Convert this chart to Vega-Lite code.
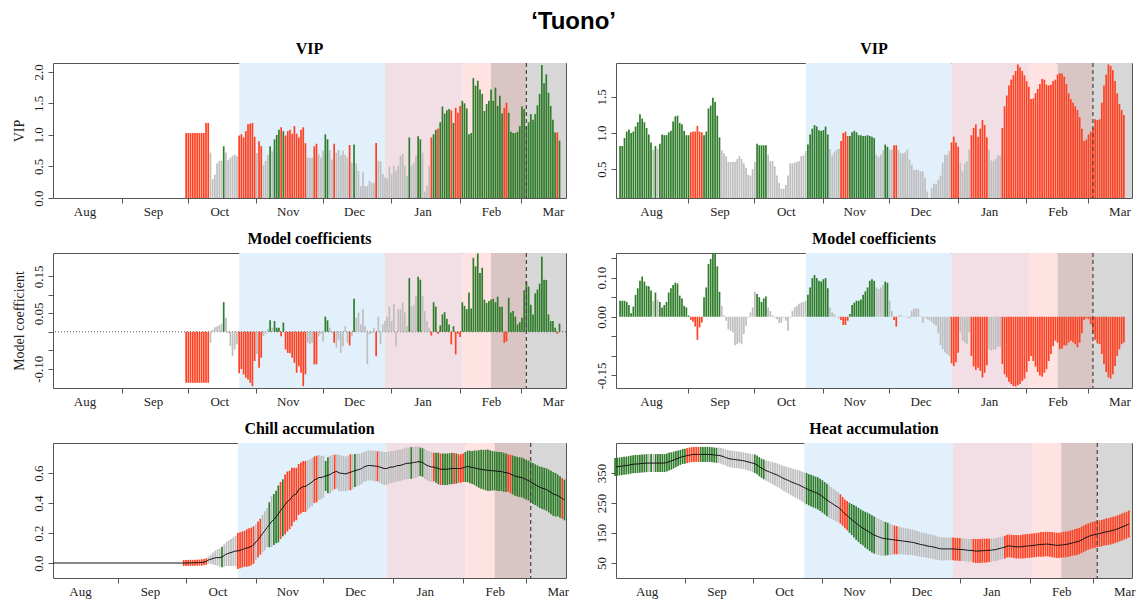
{
"$schema":"https://vega.github.io/schema/vega-lite/v6.json",
"background":"white",
"padding":{"left":11,"top":9,"right":5,"bottom":4},
"title":{"text":"‘Tuono’","font":"Liberation Sans","fontSize":24,"fontWeight":"bold","anchor":"middle","color":"#000","offset":7},
"datasets":{
"P":[{"s":"2018-10-24","e":"2018-12-29","k":"chill"},{"s":"2018-12-29","e":"2019-02-02","k":"heat"},{"s":"2019-02-02","e":"2019-02-15","k":"heat late"},{"s":"2019-02-15","e":"2019-03-03","k":"bloom early"},{"s":"2019-03-03","e":"2019-03-25","k":"bloom late"}],
"B":[{"d":"2019-03-03"}],
"Z":[{"z":0}],
"L":[
{"d":"2018-08-03","v":0,"c":0,"m":0,"s":0},
{"d":"2018-09-29","v":0,"c":0,"m":0,"s":0},
{"d":"2018-09-30","v":1.03,"c":-0.138,"m":0,"s":0.02},
{"d":"2018-10-01","v":1.03,"c":-0.138,"m":0,"s":0.02},
{"d":"2018-10-02","v":1.03,"c":-0.138,"m":0.001,"s":0.02},
{"d":"2018-10-03","v":1.03,"c":-0.138,"m":0.001,"s":0.02},
{"d":"2018-10-04","v":1.03,"c":-0.138,"m":0.001,"s":0.02},
{"d":"2018-10-05","v":1.03,"c":-0.138,"m":0.002,"s":0.02},
{"d":"2018-10-06","v":1.03,"c":-0.138,"m":0.002,"s":0.02},
{"d":"2018-10-07","v":1.03,"c":-0.138,"m":0.003,"s":0.02},
{"d":"2018-10-08","v":1.03,"c":-0.138,"m":0.004,"s":0.021},
{"d":"2018-10-09","v":1.19,"c":-0.138,"m":0.006,"s":0.021},
{"d":"2018-10-10","v":1.19,"c":-0.138,"m":0.01,"s":0.022},
{"d":"2018-10-11","v":0.72,"c":-0.03,"m":0.02,"s":0.024},
{"d":"2018-10-12","v":0.3,"c":0.005,"m":0.025,"s":0.03},
{"d":"2018-10-13","v":0.37,"c":0.012,"m":0.03,"s":0.04},
{"d":"2018-10-14","v":0.55,"c":0.015,"m":0.035,"s":0.048},
{"d":"2018-10-15","v":0.59,"c":0.018,"m":0.036,"s":0.055},
{"d":"2018-10-16","v":0.59,"c":0.022,"m":0.036,"s":0.06},
{"d":"2018-10-17","v":0.82,"c":0.08,"m":0.04,"s":0.069},
{"d":"2018-10-18","v":0.72,"c":0.038,"m":0.05,"s":0.075},
{"d":"2018-10-19","v":0.6,"c":-0.004,"m":0.06,"s":0.08},
{"d":"2018-10-20","v":0.64,"c":-0.039,"m":0.065,"s":0.085},
{"d":"2018-10-21","v":0.67,"c":-0.066,"m":0.07,"s":0.09},
{"d":"2018-10-22","v":0.69,"c":-0.048,"m":0.075,"s":0.095},
{"d":"2018-10-23","v":0.66,"c":-0.034,"m":0.08,"s":0.1},
{"d":"2018-10-24","v":0.99,"c":-0.112,"m":0.08,"s":0.12},
{"d":"2018-10-25","v":1.01,"c":-0.101,"m":0.085,"s":0.12},
{"d":"2018-10-26","v":0.96,"c":-0.115,"m":0.09,"s":0.12},
{"d":"2018-10-27","v":1.06,"c":-0.124,"m":0.095,"s":0.12},
{"d":"2018-10-28","v":1.17,"c":-0.129,"m":0.1,"s":0.125},
{"d":"2018-10-29","v":1.18,"c":-0.138,"m":0.105,"s":0.126},
{"d":"2018-10-30","v":1.19,"c":-0.147,"m":0.11,"s":0.126},
{"d":"2018-10-31","v":0.97,"c":-0.079,"m":0.12,"s":0.125},
{"d":"2018-11-01","v":0.71,"c":-0.06,"m":0.14,"s":0.12},
{"d":"2018-11-02","v":0.9,"c":-0.097,"m":0.156,"s":0.12},
{"d":"2018-11-03","v":0.82,"c":-0.07,"m":0.175,"s":0.12},
{"d":"2018-11-04","v":0.52,"c":-0.012,"m":0.196,"s":0.125},
{"d":"2018-11-05","v":0.59,"c":-0.005,"m":0.215,"s":0.13},
{"d":"2018-11-06","v":0.68,"c":0.008,"m":0.236,"s":0.13},
{"d":"2018-11-07","v":0.82,"c":0.031,"m":0.255,"s":0.15},
{"d":"2018-11-08","v":0.74,"c":0.011,"m":0.277,"s":0.17},
{"d":"2018-11-09","v":0.93,"c":0.029,"m":0.29,"s":0.17},
{"d":"2018-11-10","v":1.0,"c":0.011,"m":0.307,"s":0.175},
{"d":"2018-11-11","v":1.08,"c":0.011,"m":0.327,"s":0.19},
{"d":"2018-11-12","v":1.12,"c":-0.012,"m":0.35,"s":0.19},
{"d":"2018-11-13","v":1.06,"c":0.025,"m":0.368,"s":0.19},
{"d":"2018-11-14","v":0.99,"c":-0.048,"m":0.39,"s":0.2},
{"d":"2018-11-15","v":1.06,"c":-0.057,"m":0.41,"s":0.2},
{"d":"2018-11-16","v":1.08,"c":-0.058,"m":0.42,"s":0.195},
{"d":"2018-11-17","v":1.02,"c":-0.07,"m":0.44,"s":0.195},
{"d":"2018-11-18","v":1.14,"c":-0.084,"m":0.455,"s":0.18},
{"d":"2018-11-19","v":1.02,"c":-0.111,"m":0.46,"s":0.175},
{"d":"2018-11-20","v":0.96,"c":-0.093,"m":0.49,"s":0.17},
{"d":"2018-11-21","v":1.08,"c":-0.111,"m":0.5,"s":0.17},
{"d":"2018-11-22","v":1.12,"c":-0.147,"m":0.51,"s":0.17},
{"d":"2018-11-23","v":0.87,"c":-0.115,"m":0.51,"s":0.17},
{"d":"2018-11-24","v":0.64,"c":-0.03,"m":0.52,"s":0.165},
{"d":"2018-11-25","v":0.64,"c":-0.034,"m":0.53,"s":0.16},
{"d":"2018-11-26","v":0.64,"c":-0.03,"m":0.54,"s":0.16},
{"d":"2018-11-27","v":0.82,"c":-0.088,"m":0.555,"s":0.155},
{"d":"2018-11-28","v":0.86,"c":-0.088,"m":0.56,"s":0.155},
{"d":"2018-11-29","v":0.69,"c":-0.012,"m":0.57,"s":0.15},
{"d":"2018-11-30","v":0.64,"c":-0.005,"m":0.57,"s":0.145},
{"d":"2018-12-01","v":0.75,"c":-0.026,"m":0.575,"s":0.14},
{"d":"2018-12-02","v":1.01,"c":0.041,"m":0.58,"s":0.1},
{"d":"2018-12-03","v":0.93,"c":0.031,"m":0.585,"s":0.12},
{"d":"2018-12-04","v":0.76,"c":0.011,"m":0.59,"s":0.125},
{"d":"2018-12-05","v":0.61,"c":-0.003,"m":0.6,"s":0.12},
{"d":"2018-12-06","v":0.86,"c":-0.03,"m":0.607,"s":0.115},
{"d":"2018-12-07","v":0.72,"c":-0.043,"m":0.61,"s":0.115},
{"d":"2018-12-08","v":0.76,"c":-0.021,"m":0.6,"s":0.12},
{"d":"2018-12-09","v":0.68,"c":-0.057,"m":0.598,"s":0.12},
{"d":"2018-12-10","v":0.75,"c":-0.039,"m":0.596,"s":0.118},
{"d":"2018-12-11","v":0.68,"c":0.015,"m":0.594,"s":0.116},
{"d":"2018-12-12","v":0.64,"c":-0.03,"m":0.6,"s":0.116},
{"d":"2018-12-13","v":0.84,"c":-0.037,"m":0.605,"s":0.12},
{"d":"2018-12-14","v":0.56,"c":-0.012,"m":0.61,"s":0.115},
{"d":"2018-12-15","v":0.85,"c":0.089,"m":0.616,"s":0.11},
{"d":"2018-12-16","v":0.55,"c":0.038,"m":0.62,"s":0.108},
{"d":"2018-12-17","v":0.43,"c":0.052,"m":0.624,"s":0.106},
{"d":"2018-12-18","v":0.19,"c":0.02,"m":0.63,"s":0.104},
{"d":"2018-12-19","v":0.41,"c":0.061,"m":0.64,"s":0.1},
{"d":"2018-12-20","v":0.19,"c":0.015,"m":0.646,"s":0.1},
{"d":"2018-12-21","v":0.19,"c":-0.088,"m":0.65,"s":0.1},
{"d":"2018-12-22","v":0.27,"c":-0.007,"m":0.65,"s":0.1},
{"d":"2018-12-23","v":0.24,"c":-0.004,"m":0.648,"s":0.1},
{"d":"2018-12-24","v":0.24,"c":0.01,"m":0.646,"s":0.102},
{"d":"2018-12-25","v":0.87,"c":-0.066,"m":0.645,"s":0.1},
{"d":"2018-12-26","v":0.59,"c":0.041,"m":0.64,"s":0.105},
{"d":"2018-12-27","v":0.58,"c":-0.034,"m":0.635,"s":0.108},
{"d":"2018-12-28","v":0.38,"c":0.02,"m":0.63,"s":0.11},
{"d":"2018-12-29","v":0.33,"c":0.029,"m":0.63,"s":0.11},
{"d":"2018-12-30","v":0.31,"c":0.041,"m":0.635,"s":0.108},
{"d":"2018-12-31","v":0.49,"c":0.068,"m":0.64,"s":0.106},
{"d":"2019-01-01","v":0.38,"c":0.029,"m":0.64,"s":0.106},
{"d":"2019-01-02","v":0.51,"c":0.076,"m":0.645,"s":0.105},
{"d":"2019-01-03","v":0.43,"c":-0.039,"m":0.65,"s":0.105},
{"d":"2019-01-04","v":0.51,"c":0.061,"m":0.65,"s":0.105},
{"d":"2019-01-05","v":0.67,"c":0.061,"m":0.655,"s":0.105},
{"d":"2019-01-06","v":0.7,"c":0.078,"m":0.66,"s":0.105},
{"d":"2019-01-07","v":0.51,"c":0.052,"m":0.665,"s":0.105},
{"d":"2019-01-08","v":0.35,"c":0.015,"m":0.665,"s":0.105},
{"d":"2019-01-09","v":0.96,"c":0.145,"m":0.667,"s":0.106},
{"d":"2019-01-10","v":0.51,"c":0.068,"m":0.67,"s":0.105},
{"d":"2019-01-11","v":0.55,"c":0.073,"m":0.672,"s":0.105},
{"d":"2019-01-12","v":0.67,"c":0.096,"m":0.675,"s":0.1},
{"d":"2019-01-13","v":0.98,"c":0.149,"m":0.675,"s":0.095},
{"d":"2019-01-14","v":0.93,"c":0.141,"m":0.67,"s":0.095},
{"d":"2019-01-15","v":0.72,"c":0.096,"m":0.66,"s":0.1},
{"d":"2019-01-16","v":0.1,"c":0.056,"m":0.65,"s":0.1},
{"d":"2019-01-17","v":0.19,"c":0.029,"m":0.645,"s":0.1},
{"d":"2019-01-18","v":0.51,"c":0.011,"m":0.64,"s":0.1},
{"d":"2019-01-19","v":0.96,"c":-0.01,"m":0.64,"s":0.095},
{"d":"2019-01-20","v":1.01,"c":0.08,"m":0.635,"s":0.1},
{"d":"2019-01-21","v":1.08,"c":0.068,"m":0.63,"s":0.105},
{"d":"2019-01-22","v":1.1,"c":-0.005,"m":0.625,"s":0.105},
{"d":"2019-01-23","v":1.2,"c":0.017,"m":0.625,"s":0.105},
{"d":"2019-01-24","v":1.45,"c":0.047,"m":0.625,"s":0.105},
{"d":"2019-01-25","v":1.34,"c":0.053,"m":0.625,"s":0.105},
{"d":"2019-01-26","v":1.39,"c":0.035,"m":0.628,"s":0.104},
{"d":"2019-01-27","v":1.41,"c":0.02,"m":0.63,"s":0.104},
{"d":"2019-01-28","v":1.39,"c":-0.034,"m":0.63,"s":0.104},
{"d":"2019-01-29","v":1.19,"c":0.015,"m":0.63,"s":0.1},
{"d":"2019-01-30","v":1.43,"c":-0.061,"m":0.63,"s":0.095},
{"d":"2019-01-31","v":1.35,"c":-0.005,"m":0.63,"s":0.095},
{"d":"2019-02-01","v":1.46,"c":-0.014,"m":0.635,"s":0.095},
{"d":"2019-02-02","v":1.54,"c":0.08,"m":0.64,"s":0.1},
{"d":"2019-02-03","v":1.5,"c":0.07,"m":0.644,"s":0.105},
{"d":"2019-02-04","v":1.42,"c":0.061,"m":0.64,"s":0.108},
{"d":"2019-02-05","v":1.01,"c":0.106,"m":0.637,"s":0.11},
{"d":"2019-02-06","v":1.03,"c":0.063,"m":0.635,"s":0.115},
{"d":"2019-02-07","v":1.9,"c":0.2,"m":0.63,"s":0.12},
{"d":"2019-02-08","v":1.78,"c":0.177,"m":0.627,"s":0.125},
{"d":"2019-02-09","v":1.86,"c":0.212,"m":0.625,"s":0.13},
{"d":"2019-02-10","v":1.72,"c":0.159,"m":0.622,"s":0.132},
{"d":"2019-02-11","v":1.65,"c":0.173,"m":0.62,"s":0.135},
{"d":"2019-02-12","v":1.38,"c":0.087,"m":0.618,"s":0.138},
{"d":"2019-02-13","v":1.49,"c":0.078,"m":0.616,"s":0.135},
{"d":"2019-02-14","v":1.54,"c":0.083,"m":0.615,"s":0.132},
{"d":"2019-02-15","v":1.72,"c":0.087,"m":0.614,"s":0.13},
{"d":"2019-02-16","v":1.54,"c":0.089,"m":0.612,"s":0.13},
{"d":"2019-02-17","v":1.75,"c":0.08,"m":0.61,"s":0.13},
{"d":"2019-02-18","v":1.46,"c":0.095,"m":0.61,"s":0.13},
{"d":"2019-02-19","v":1.62,"c":0.068,"m":0.605,"s":0.13},
{"d":"2019-02-20","v":1.34,"c":0.068,"m":0.602,"s":0.128},
{"d":"2019-02-21","v":1.43,"c":-0.03,"m":0.6,"s":0.125},
{"d":"2019-02-22","v":1.51,"c":-0.026,"m":0.593,"s":0.128},
{"d":"2019-02-23","v":1.35,"c":0.092,"m":0.587,"s":0.13},
{"d":"2019-02-24","v":1.05,"c":0.052,"m":0.58,"s":0.132},
{"d":"2019-02-25","v":1.03,"c":0.056,"m":0.576,"s":0.132},
{"d":"2019-02-26","v":1.03,"c":0.041,"m":0.572,"s":0.133},
{"d":"2019-02-27","v":1.05,"c":0.02,"m":0.57,"s":0.133},
{"d":"2019-02-28","v":1.14,"c":0.026,"m":0.563,"s":0.133},
{"d":"2019-03-01","v":1.45,"c":0.038,"m":0.556,"s":0.133},
{"d":"2019-03-02","v":1.41,"c":0.112,"m":0.55,"s":0.133},
{"d":"2019-03-03","v":1.14,"c":0.137,"m":0.54,"s":0.135},
{"d":"2019-03-04","v":1.2,"c":0.122,"m":0.53,"s":0.136},
{"d":"2019-03-05","v":1.33,"c":0.073,"m":0.522,"s":0.136},
{"d":"2019-03-06","v":1.24,"c":0.047,"m":0.514,"s":0.137},
{"d":"2019-03-07","v":1.33,"c":0.104,"m":0.505,"s":0.138},
{"d":"2019-03-08","v":1.47,"c":0.114,"m":0.5,"s":0.14},
{"d":"2019-03-09","v":1.65,"c":0.13,"m":0.495,"s":0.14},
{"d":"2019-03-10","v":2.11,"c":0.203,"m":0.49,"s":0.142},
{"d":"2019-03-11","v":1.82,"c":0.141,"m":0.48,"s":0.143},
{"d":"2019-03-12","v":1.96,"c":0.14,"m":0.47,"s":0.145},
{"d":"2019-03-13","v":1.67,"c":0.047,"m":0.46,"s":0.146},
{"d":"2019-03-14","v":1.46,"c":0.029,"m":0.455,"s":0.145},
{"d":"2019-03-15","v":1.24,"c":0.029,"m":0.45,"s":0.14},
{"d":"2019-03-16","v":1.04,"c":0.011,"m":0.44,"s":0.138},
{"d":"2019-03-17","v":1.04,"c":-0.005,"m":0.43,"s":0.136},
{"d":"2019-03-18","v":0.91,"c":0.022,"m":0.42,"s":0.136}
],
"R":[
{"d":"2018-08-01","v":0.82,"c":0.041,"m":370,"s":30},
{"d":"2018-08-02","v":0.82,"c":0.041,"m":371,"s":30},
{"d":"2018-08-03","v":0.93,"c":0.041,"m":372,"s":30},
{"d":"2018-08-04","v":1.02,"c":0.038,"m":373,"s":30},
{"d":"2018-08-05","v":1.05,"c":0.03,"m":374,"s":30},
{"d":"2018-08-06","v":1.0,"c":0.009,"m":375,"s":30},
{"d":"2018-08-07","v":1.02,"c":0.026,"m":376,"s":30},
{"d":"2018-08-08","v":1.09,"c":0.056,"m":378,"s":30},
{"d":"2018-08-09","v":1.15,"c":0.073,"m":379,"s":30},
{"d":"2018-08-10","v":1.26,"c":0.092,"m":380,"s":30},
{"d":"2018-08-11","v":1.2,"c":0.103,"m":380,"s":30},
{"d":"2018-08-12","v":1.15,"c":0.09,"m":381,"s":30},
{"d":"2018-08-13","v":1.07,"c":0.079,"m":382,"s":30},
{"d":"2018-08-14","v":0.98,"c":0.078,"m":382,"s":30},
{"d":"2018-08-15","v":0.87,"c":0.067,"m":383,"s":30},
{"d":"2018-08-16","v":0.77,"c":0.041,"m":383,"s":30},
{"d":"2018-08-17","v":0.82,"c":0.062,"m":383,"s":30},
{"d":"2018-08-18","v":0.78,"c":0.044,"m":383,"s":30},
{"d":"2018-08-19","v":0.85,"c":0.038,"m":383,"s":30},
{"d":"2018-08-20","v":0.98,"c":0.024,"m":383,"s":30},
{"d":"2018-08-21","v":0.97,"c":0.03,"m":383,"s":30},
{"d":"2018-08-22","v":0.97,"c":0.038,"m":383,"s":30},
{"d":"2018-08-23","v":1.01,"c":0.062,"m":383,"s":30},
{"d":"2018-08-24","v":1.03,"c":0.073,"m":385,"s":30},
{"d":"2018-08-25","v":1.16,"c":0.081,"m":388,"s":30},
{"d":"2018-08-26","v":1.23,"c":0.087,"m":390,"s":29},
{"d":"2018-08-27","v":1.24,"c":0.085,"m":393,"s":28},
{"d":"2018-08-28","v":1.14,"c":0.054,"m":396,"s":27},
{"d":"2018-08-29","v":1.12,"c":0.047,"m":399,"s":26},
{"d":"2018-08-30","v":1.03,"c":0.028,"m":402,"s":25},
{"d":"2018-08-31","v":0.97,"c":0.024,"m":405,"s":25},
{"d":"2018-09-01","v":0.97,"c":0.003,"m":406,"s":25},
{"d":"2018-09-02","v":1.01,"c":-0.008,"m":408,"s":25},
{"d":"2018-09-03","v":1.02,"c":-0.013,"m":410,"s":25},
{"d":"2018-09-04","v":1.02,"c":-0.025,"m":411,"s":25},
{"d":"2018-09-05","v":1.1,"c":-0.059,"m":412,"s":25},
{"d":"2018-09-06","v":1.02,"c":-0.027,"m":412,"s":25},
{"d":"2018-09-07","v":1.01,"c":-0.015,"m":412,"s":25},
{"d":"2018-09-08","v":0.97,"c":0.05,"m":412,"s":25},
{"d":"2018-09-09","v":1.02,"c":0.075,"m":412,"s":25},
{"d":"2018-09-10","v":1.34,"c":0.135,"m":412,"s":25},
{"d":"2018-09-11","v":1.38,"c":0.148,"m":412,"s":25},
{"d":"2018-09-12","v":1.49,"c":0.163,"m":412,"s":25},
{"d":"2018-09-13","v":1.43,"c":0.163,"m":411,"s":25},
{"d":"2018-09-14","v":1.24,"c":0.129,"m":410,"s":25},
{"d":"2018-09-15","v":0.94,"c":0.064,"m":409,"s":25},
{"d":"2018-09-16","v":0.76,"c":0.028,"m":409,"s":26},
{"d":"2018-09-17","v":0.72,"c":0.003,"m":407,"s":26},
{"d":"2018-09-18","v":0.68,"c":-0.01,"m":405,"s":27},
{"d":"2018-09-19","v":0.6,"c":-0.032,"m":402,"s":27},
{"d":"2018-09-20","v":0.6,"c":-0.036,"m":399,"s":28},
{"d":"2018-09-21","v":0.6,"c":-0.04,"m":397,"s":28},
{"d":"2018-09-22","v":0.6,"c":-0.073,"m":396,"s":28},
{"d":"2018-09-23","v":0.64,"c":-0.07,"m":395,"s":28},
{"d":"2018-09-24","v":0.68,"c":-0.066,"m":394,"s":28},
{"d":"2018-09-25","v":0.64,"c":-0.07,"m":393,"s":28},
{"d":"2018-09-26","v":0.58,"c":-0.044,"m":392,"s":28},
{"d":"2018-09-27","v":0.52,"c":-0.023,"m":391,"s":28},
{"d":"2018-09-28","v":0.42,"c":-0.002,"m":389,"s":28},
{"d":"2018-09-29","v":0.41,"c":0.011,"m":387,"s":29},
{"d":"2018-09-30","v":0.5,"c":0.024,"m":385,"s":29},
{"d":"2018-10-01","v":0.6,"c":0.064,"m":383,"s":30},
{"d":"2018-10-02","v":0.85,"c":0.058,"m":381,"s":31},
{"d":"2018-10-03","v":0.83,"c":0.05,"m":377,"s":31},
{"d":"2018-10-04","v":0.83,"c":0.038,"m":371,"s":32},
{"d":"2018-10-05","v":0.83,"c":0.047,"m":366,"s":32},
{"d":"2018-10-06","v":0.83,"c":0.052,"m":362,"s":33},
{"d":"2018-10-07","v":0.7,"c":0.024,"m":358,"s":34},
{"d":"2018-10-08","v":0.61,"c":0.015,"m":355,"s":35},
{"d":"2018-10-09","v":0.61,"c":0.004,"m":352,"s":36},
{"d":"2018-10-10","v":0.54,"c":-0.002,"m":349,"s":37},
{"d":"2018-10-11","v":0.41,"c":-0.006,"m":346,"s":38},
{"d":"2018-10-12","v":0.31,"c":-0.016,"m":343,"s":39},
{"d":"2018-10-13","v":0.23,"c":-0.015,"m":339,"s":40},
{"d":"2018-10-14","v":0.23,"c":-0.002,"m":335,"s":41},
{"d":"2018-10-15","v":0.28,"c":-0.01,"m":331,"s":42},
{"d":"2018-10-16","v":0.41,"c":-0.036,"m":328,"s":43},
{"d":"2018-10-17","v":0.58,"c":-0.002,"m":325,"s":44},
{"d":"2018-10-18","v":0.58,"c":0.015,"m":321,"s":45},
{"d":"2018-10-19","v":0.59,"c":0.024,"m":318,"s":46},
{"d":"2018-10-20","v":0.6,"c":0.028,"m":315,"s":47},
{"d":"2018-10-21","v":0.61,"c":0.033,"m":312,"s":48},
{"d":"2018-10-22","v":0.68,"c":0.036,"m":309,"s":49},
{"d":"2018-10-23","v":0.69,"c":0.038,"m":305,"s":50},
{"d":"2018-10-24","v":0.75,"c":0.041,"m":301,"s":51},
{"d":"2018-10-25","v":0.84,"c":0.056,"m":298,"s":52},
{"d":"2018-10-26","v":0.98,"c":0.075,"m":294,"s":52},
{"d":"2018-10-27","v":1.06,"c":0.099,"m":291,"s":53},
{"d":"2018-10-28","v":1.11,"c":0.107,"m":288,"s":53},
{"d":"2018-10-29","v":1.09,"c":0.099,"m":285,"s":53},
{"d":"2018-10-30","v":1.04,"c":0.092,"m":282,"s":54},
{"d":"2018-10-31","v":1.03,"c":0.09,"m":277,"s":54},
{"d":"2018-11-01","v":1.04,"c":0.096,"m":272,"s":54},
{"d":"2018-11-02","v":1.09,"c":0.099,"m":266,"s":54},
{"d":"2018-11-03","v":0.98,"c":0.073,"m":260,"s":54},
{"d":"2018-11-04","v":0.78,"c":0.024,"m":255,"s":54},
{"d":"2018-11-05","v":0.69,"c":0.011,"m":250,"s":53},
{"d":"2018-11-06","v":0.74,"c":0.007,"m":245,"s":52},
{"d":"2018-11-07","v":0.77,"c":0.001,"m":240,"s":51},
{"d":"2018-11-08","v":0.78,"c":-0.004,"m":236,"s":50},
{"d":"2018-11-09","v":0.89,"c":-0.008,"m":230,"s":49},
{"d":"2018-11-10","v":1.0,"c":-0.021,"m":222,"s":48},
{"d":"2018-11-11","v":1.02,"c":-0.021,"m":214,"s":48},
{"d":"2018-11-12","v":0.96,"c":-0.01,"m":208,"s":49},
{"d":"2018-11-13","v":0.96,"c":0.007,"m":201,"s":50},
{"d":"2018-11-14","v":1.01,"c":0.03,"m":195,"s":52},
{"d":"2018-11-15","v":1.03,"c":0.036,"m":189,"s":54},
{"d":"2018-11-16","v":1.01,"c":0.041,"m":183,"s":56},
{"d":"2018-11-17","v":0.97,"c":0.041,"m":177,"s":57},
{"d":"2018-11-18","v":0.97,"c":0.044,"m":171,"s":58},
{"d":"2018-11-19","v":0.96,"c":0.056,"m":166,"s":58},
{"d":"2018-11-20","v":0.96,"c":0.065,"m":161,"s":60},
{"d":"2018-11-21","v":0.97,"c":0.075,"m":157,"s":61},
{"d":"2018-11-22","v":0.96,"c":0.092,"m":152,"s":62},
{"d":"2018-11-23","v":0.95,"c":0.096,"m":147,"s":62},
{"d":"2018-11-24","v":0.93,"c":0.092,"m":143,"s":62},
{"d":"2018-11-25","v":0.7,"c":0.075,"m":140,"s":61},
{"d":"2018-11-26","v":0.67,"c":0.071,"m":137,"s":60},
{"d":"2018-11-27","v":0.7,"c":0.075,"m":134,"s":59},
{"d":"2018-11-28","v":0.76,"c":0.081,"m":132,"s":58},
{"d":"2018-11-29","v":0.84,"c":0.09,"m":131,"s":56},
{"d":"2018-11-30","v":0.81,"c":0.087,"m":130,"s":54},
{"d":"2018-12-01","v":0.77,"c":0.041,"m":129,"s":52},
{"d":"2018-12-02","v":0.77,"c":0.015,"m":128,"s":50},
{"d":"2018-12-03","v":0.83,"c":-0.008,"m":127,"s":48},
{"d":"2018-12-04","v":0.83,"c":-0.025,"m":126,"s":47},
{"d":"2018-12-05","v":0.76,"c":0.003,"m":125,"s":46},
{"d":"2018-12-06","v":0.72,"c":0.004,"m":124,"s":45},
{"d":"2018-12-07","v":0.72,"c":0.001,"m":123,"s":45},
{"d":"2018-12-08","v":0.73,"c":0.001,"m":122,"s":44},
{"d":"2018-12-09","v":0.77,"c":-0.002,"m":121,"s":44},
{"d":"2018-12-10","v":0.63,"c":-0.004,"m":120,"s":43},
{"d":"2018-12-11","v":0.56,"c":0.015,"m":119,"s":43},
{"d":"2018-12-12","v":0.49,"c":0.021,"m":117,"s":42},
{"d":"2018-12-13","v":0.49,"c":0.021,"m":115,"s":42},
{"d":"2018-12-14","v":0.49,"c":0.021,"m":113,"s":41},
{"d":"2018-12-15","v":0.47,"c":0.001,"m":111,"s":41},
{"d":"2018-12-16","v":0.47,"c":-0.016,"m":110,"s":40},
{"d":"2018-12-17","v":0.38,"c":-0.002,"m":108,"s":40},
{"d":"2018-12-18","v":0.19,"c":-0.006,"m":106,"s":40},
{"d":"2018-12-19","v":0.1,"c":-0.008,"m":105,"s":40},
{"d":"2018-12-20","v":0.24,"c":-0.013,"m":104,"s":40},
{"d":"2018-12-21","v":0.3,"c":-0.019,"m":102,"s":40},
{"d":"2018-12-22","v":0.29,"c":-0.023,"m":100,"s":39},
{"d":"2018-12-23","v":0.35,"c":-0.042,"m":98,"s":39},
{"d":"2018-12-24","v":0.41,"c":-0.073,"m":97,"s":39},
{"d":"2018-12-25","v":0.59,"c":-0.083,"m":97,"s":39},
{"d":"2018-12-26","v":0.7,"c":-0.091,"m":97,"s":38},
{"d":"2018-12-27","v":0.7,"c":-0.095,"m":97,"s":38},
{"d":"2018-12-28","v":0.75,"c":-0.1,"m":97,"s":38},
{"d":"2018-12-29","v":0.87,"c":-0.119,"m":97,"s":38},
{"d":"2018-12-30","v":0.95,"c":-0.126,"m":96,"s":38},
{"d":"2018-12-31","v":0.87,"c":-0.116,"m":96,"s":38},
{"d":"2019-01-01","v":0.81,"c":-0.092,"m":95,"s":38},
{"d":"2019-01-02","v":0.59,"c":-0.04,"m":95,"s":38},
{"d":"2019-01-03","v":0.47,"c":-0.061,"m":94,"s":38},
{"d":"2019-01-04","v":0.58,"c":-0.066,"m":93,"s":38},
{"d":"2019-01-05","v":0.61,"c":-0.07,"m":92,"s":38},
{"d":"2019-01-06","v":0.77,"c":-0.04,"m":92,"s":38},
{"d":"2019-01-07","v":0.97,"c":-0.1,"m":91,"s":39},
{"d":"2019-01-08","v":1.07,"c":-0.127,"m":90,"s":40},
{"d":"2019-01-09","v":1.12,"c":-0.136,"m":90,"s":40},
{"d":"2019-01-10","v":0.95,"c":-0.13,"m":90,"s":40},
{"d":"2019-01-11","v":1.06,"c":-0.138,"m":91,"s":40},
{"d":"2019-01-12","v":1.18,"c":-0.155,"m":91,"s":40},
{"d":"2019-01-13","v":1.11,"c":-0.143,"m":92,"s":40},
{"d":"2019-01-14","v":0.94,"c":-0.124,"m":92,"s":39},
{"d":"2019-01-15","v":0.77,"c":-0.083,"m":93,"s":39},
{"d":"2019-01-16","v":0.62,"c":-0.087,"m":94,"s":38},
{"d":"2019-01-17","v":0.61,"c":-0.083,"m":95,"s":38},
{"d":"2019-01-18","v":0.64,"c":-0.083,"m":97,"s":38},
{"d":"2019-01-19","v":0.69,"c":-0.075,"m":99,"s":38},
{"d":"2019-01-20","v":0.69,"c":-0.078,"m":101,"s":38},
{"d":"2019-01-21","v":1.07,"c":-0.121,"m":103,"s":38},
{"d":"2019-01-22","v":1.37,"c":-0.147,"m":106,"s":38},
{"d":"2019-01-23","v":1.52,"c":-0.155,"m":107,"s":38},
{"d":"2019-01-24","v":1.66,"c":-0.166,"m":106,"s":38},
{"d":"2019-01-25","v":1.74,"c":-0.172,"m":105,"s":38},
{"d":"2019-01-26","v":1.8,"c":-0.177,"m":104,"s":39},
{"d":"2019-01-27","v":1.86,"c":-0.178,"m":104,"s":39},
{"d":"2019-01-28","v":1.95,"c":-0.175,"m":104,"s":39},
{"d":"2019-01-29","v":1.91,"c":-0.172,"m":105,"s":40},
{"d":"2019-01-30","v":1.86,"c":-0.164,"m":106,"s":40},
{"d":"2019-01-31","v":1.8,"c":-0.158,"m":107,"s":40},
{"d":"2019-02-01","v":1.72,"c":-0.141,"m":107,"s":40},
{"d":"2019-02-02","v":1.64,"c":-0.113,"m":108,"s":40},
{"d":"2019-02-03","v":1.47,"c":-0.1,"m":109,"s":40},
{"d":"2019-02-04","v":1.48,"c":-0.113,"m":110,"s":40},
{"d":"2019-02-05","v":1.55,"c":-0.127,"m":111,"s":40},
{"d":"2019-02-06","v":1.61,"c":-0.141,"m":112,"s":41},
{"d":"2019-02-07","v":1.68,"c":-0.15,"m":112,"s":41},
{"d":"2019-02-08","v":1.75,"c":-0.153,"m":113,"s":41},
{"d":"2019-02-09","v":1.74,"c":-0.143,"m":113,"s":41},
{"d":"2019-02-10","v":1.67,"c":-0.134,"m":112,"s":41},
{"d":"2019-02-11","v":1.66,"c":-0.113,"m":111,"s":42},
{"d":"2019-02-12","v":1.67,"c":-0.095,"m":110,"s":42},
{"d":"2019-02-13","v":1.72,"c":-0.075,"m":109,"s":42},
{"d":"2019-02-14","v":1.74,"c":-0.061,"m":109,"s":42},
{"d":"2019-02-15","v":1.81,"c":-0.066,"m":110,"s":42},
{"d":"2019-02-16","v":1.83,"c":-0.083,"m":111,"s":43},
{"d":"2019-02-17","v":1.82,"c":-0.081,"m":112,"s":43},
{"d":"2019-02-18","v":1.78,"c":-0.073,"m":113,"s":43},
{"d":"2019-02-19","v":1.68,"c":-0.073,"m":115,"s":43},
{"d":"2019-02-20","v":1.55,"c":-0.066,"m":117,"s":43},
{"d":"2019-02-21","v":1.47,"c":-0.061,"m":119,"s":44},
{"d":"2019-02-22","v":1.42,"c":-0.065,"m":121,"s":44},
{"d":"2019-02-23","v":1.37,"c":-0.07,"m":123,"s":44},
{"d":"2019-02-24","v":1.32,"c":-0.078,"m":127,"s":44},
{"d":"2019-02-25","v":1.22,"c":-0.066,"m":131,"s":44},
{"d":"2019-02-26","v":1.06,"c":-0.042,"m":135,"s":44},
{"d":"2019-02-27","v":0.89,"c":-0.008,"m":138,"s":44},
{"d":"2019-02-28","v":0.91,"c":-0.004,"m":141,"s":44},
{"d":"2019-03-01","v":0.98,"c":-0.006,"m":143,"s":44},
{"d":"2019-03-02","v":1.02,"c":-0.019,"m":145,"s":44},
{"d":"2019-03-03","v":1.07,"c":-0.042,"m":147,"s":44},
{"d":"2019-03-04","v":1.19,"c":-0.059,"m":148,"s":44},
{"d":"2019-03-05","v":1.18,"c":-0.068,"m":150,"s":44},
{"d":"2019-03-06","v":1.19,"c":-0.07,"m":152,"s":44},
{"d":"2019-03-07","v":1.42,"c":-0.095,"m":154,"s":45},
{"d":"2019-03-08","v":1.66,"c":-0.121,"m":155,"s":45},
{"d":"2019-03-09","v":1.81,"c":-0.141,"m":157,"s":45},
{"d":"2019-03-10","v":1.95,"c":-0.155,"m":159,"s":45},
{"d":"2019-03-11","v":1.93,"c":-0.158,"m":161,"s":45},
{"d":"2019-03-12","v":1.87,"c":-0.147,"m":164,"s":45},
{"d":"2019-03-13","v":1.72,"c":-0.126,"m":167,"s":45},
{"d":"2019-03-14","v":1.55,"c":-0.1,"m":170,"s":45},
{"d":"2019-03-15","v":1.4,"c":-0.083,"m":173,"s":45},
{"d":"2019-03-16","v":1.32,"c":-0.07,"m":176,"s":45},
{"d":"2019-03-17","v":1.25,"c":-0.066,"m":180,"s":45}
]
},
"columns":2,
"align":"each",
"bounds":"flush",
"spacing":{"row":55,"column":50},
"concat":[
{
"width":513,"height":135,"title":"VIP",
"layer":[
{"data":{"name":"P"},"mark":{"type":"rect","clip":true},"encoding":{"x":{"field":"s","type":"temporal","title":null},"x2":{"field":"e"},"color":{"field":"k","type":"nominal","legend":null,"scale":{"domain":["chill","heat","heat late","bloom early","bloom late"],"range":["#e2f0fc","#f2dfe5","#ffe3e3","#d8c5c4","#d7d7d7"]}}}},
{"data":{"name":"L"},"mark":{"type":"bar","width":1.7,"clip":true},"encoding":{
"x":{"field":"d","type":"temporal","title":null,"scale":{"type":"utc","domain":[{"year":2018,"month":8,"date":3,"utc":true},{"year":2019,"month":3,"date":18,"hours":16,"utc":true}]},"axis":{"values":[{"year":2018,"month":8,"date":15,"utc":true},{"year":2018,"month":9,"date":15,"utc":true},{"year":2018,"month":10,"date":15,"utc":true},{"year":2018,"month":11,"date":15,"utc":true},{"year":2018,"month":12,"date":15,"utc":true},{"year":2019,"month":1,"date":15,"utc":true},{"year":2019,"month":2,"date":15,"utc":true},{"year":2019,"month":3,"date":15,"utc":true}],"labelExpr":"utcFormat(datum.value,'%b')","labelOverlap":false,"tickOpacity":{"condition":{"test":"utcmonth(datum.value)===7","value":0},"value":1}}},
"y":{"field":"v","type":"quantitative","scale":{"domain":[0,2.14]},"axis":{"values":[0,0.5,1,1.5,2],"format":".1f","labelOverlap":false,"title":"VIP"}},
"color":{"condition":[{"test":"datum.v>0.8&&datum.c>0","value":"#2f7d2a"},{"test":"datum.v>0.8&&datum.c<0","value":"#ff4122"}],"value":"#bebebe"}}},
{"data":{"name":"B"},"mark":{"type":"rule","strokeDash":[4,3],"color":"#444","strokeWidth":1.2},"encoding":{"x":{"field":"d","type":"temporal","title":null}}}
]
},
{
"width":516,"height":135,"title":"VIP",
"layer":[
{"data":{"name":"P"},"mark":{"type":"rect","clip":true},"encoding":{"x":{"field":"s","type":"temporal","title":null},"x2":{"field":"e"},"color":{"field":"k","type":"nominal","legend":null,"scale":{"domain":["chill","heat","heat late","bloom early","bloom late"],"range":["#e2f0fc","#f2dfe5","#ffe3e3","#d8c5c4","#d7d7d7"]}}}},
{"data":{"name":"R"},"mark":{"type":"bar","width":1.7,"clip":true},"encoding":{
"x":{"field":"d","type":"temporal","title":null,"scale":{"type":"utc","domain":[{"year":2018,"month":8,"date":1,"hours":10,"utc":true},{"year":2019,"month":3,"date":18,"hours":10,"utc":true}]},"axis":{"values":[{"year":2018,"month":8,"date":15,"utc":true},{"year":2018,"month":9,"date":15,"utc":true},{"year":2018,"month":10,"date":15,"utc":true},{"year":2018,"month":11,"date":15,"utc":true},{"year":2018,"month":12,"date":15,"utc":true},{"year":2019,"month":1,"date":15,"utc":true},{"year":2019,"month":2,"date":15,"utc":true},{"year":2019,"month":3,"date":15,"utc":true}],"labelExpr":"utcFormat(datum.value,'%b')","labelOverlap":false,"tickOpacity":{"condition":{"test":"utcmonth(datum.value)===7","value":0},"value":1}}},
"y":{"field":"v","type":"quantitative","scale":{"domain":[0.1,1.97],"clamp":true},"axis":{"values":[0.5,1,1.5],"format":".1f","labelOverlap":false,"title":null}},
"color":{"condition":[{"test":"datum.v>0.8&&datum.c>0","value":"#2f7d2a"},{"test":"datum.v>0.8&&datum.c<0","value":"#ff4122"}],"value":"#bebebe"}}},
{"data":{"name":"B"},"mark":{"type":"rule","strokeDash":[4,3],"color":"#444","strokeWidth":1.2},"encoding":{"x":{"field":"d","type":"temporal","title":null}}}
]
},
{
"width":513,"height":135,"title":"Model coefficients",
"layer":[
{"data":{"name":"P"},"mark":{"type":"rect","clip":true},"encoding":{"x":{"field":"s","type":"temporal","title":null},"x2":{"field":"e"},"color":{"field":"k","type":"nominal","legend":null,"scale":{"domain":["chill","heat","heat late","bloom early","bloom late"],"range":["#e2f0fc","#f2dfe5","#ffe3e3","#d8c5c4","#d7d7d7"]}}}},
{"data":{"name":"Z"},"mark":{"type":"rule","strokeDash":[1,2],"color":"#555","strokeWidth":1},"encoding":{"y":{"field":"z","type":"quantitative","scale":{"domain":[-0.152,0.213]},"axis":{"values":[-0.1,-0.05,0,0.05,0.1,0.15],"labelExpr":"abs(datum.value-0.15)<0.001?'0.15':abs(datum.value-0.05)<0.001?'0.05':abs(datum.value+0.1)<0.001?'-0.10':''","labelOverlap":false,"title":"Model coefficient"}}}},
{"data":{"name":"L"},"mark":{"type":"bar","width":1.7,"clip":true},"encoding":{
"x":{"field":"d","type":"temporal","title":null,"scale":{"type":"utc","domain":[{"year":2018,"month":8,"date":3,"utc":true},{"year":2019,"month":3,"date":18,"hours":16,"utc":true}]},"axis":{"values":[{"year":2018,"month":8,"date":15,"utc":true},{"year":2018,"month":9,"date":15,"utc":true},{"year":2018,"month":10,"date":15,"utc":true},{"year":2018,"month":11,"date":15,"utc":true},{"year":2018,"month":12,"date":15,"utc":true},{"year":2019,"month":1,"date":15,"utc":true},{"year":2019,"month":2,"date":15,"utc":true},{"year":2019,"month":3,"date":15,"utc":true}],"labelExpr":"utcFormat(datum.value,'%b')","labelOverlap":false,"tickOpacity":{"condition":{"test":"utcmonth(datum.value)===7","value":0},"value":1}}},
"y":{"field":"c","type":"quantitative","scale":{"domain":[-0.152,0.213]},"axis":{"values":[-0.1,-0.05,0,0.05,0.1,0.15],"labelExpr":"abs(datum.value-0.15)<0.001?'0.15':abs(datum.value-0.05)<0.001?'0.05':abs(datum.value+0.1)<0.001?'-0.10':''","labelOverlap":false,"title":"Model coefficient"}},
"color":{"condition":[{"test":"datum.v>0.8&&datum.c>0","value":"#2f7d2a"},{"test":"datum.v>0.8&&datum.c<0","value":"#ff4122"}],"value":"#bebebe"}}},
{"data":{"name":"B"},"mark":{"type":"rule","strokeDash":[4,3],"color":"#444","strokeWidth":1.2},"encoding":{"x":{"field":"d","type":"temporal","title":null}}}
]
},
{
"width":516,"height":135,"title":"Model coefficients",
"layer":[
{"data":{"name":"P"},"mark":{"type":"rect","clip":true},"encoding":{"x":{"field":"s","type":"temporal","title":null},"x2":{"field":"e"},"color":{"field":"k","type":"nominal","legend":null,"scale":{"domain":["chill","heat","heat late","bloom early","bloom late"],"range":["#e2f0fc","#f2dfe5","#ffe3e3","#d8c5c4","#d7d7d7"]}}}},
{"data":{"name":"R"},"mark":{"type":"bar","width":1.7,"clip":true},"encoding":{
"x":{"field":"d","type":"temporal","title":null,"scale":{"type":"utc","domain":[{"year":2018,"month":8,"date":1,"hours":10,"utc":true},{"year":2019,"month":3,"date":18,"hours":10,"utc":true}]},"axis":{"values":[{"year":2018,"month":8,"date":15,"utc":true},{"year":2018,"month":9,"date":15,"utc":true},{"year":2018,"month":10,"date":15,"utc":true},{"year":2018,"month":11,"date":15,"utc":true},{"year":2018,"month":12,"date":15,"utc":true},{"year":2019,"month":1,"date":15,"utc":true},{"year":2019,"month":2,"date":15,"utc":true},{"year":2019,"month":3,"date":15,"utc":true}],"labelExpr":"utcFormat(datum.value,'%b')","labelOverlap":false,"tickOpacity":{"condition":{"test":"utcmonth(datum.value)===7","value":0},"value":1}}},
"y":{"field":"c","type":"quantitative","scale":{"domain":[-0.182,0.163]},"axis":{"values":[-0.15,-0.1,-0.05,0,0.05,0.1,0.15],"labelExpr":"abs(datum.value-0.1)<0.001?'0.10':abs(datum.value)<0.001?'0.00':abs(datum.value+0.15)<0.001?'-0.15':''","labelOverlap":false,"title":null}},
"color":{"condition":[{"test":"datum.v>0.8&&datum.c>0","value":"#2f7d2a"},{"test":"datum.v>0.8&&datum.c<0","value":"#ff4122"}],"value":"#bebebe"}}},
{"data":{"name":"B"},"mark":{"type":"rule","strokeDash":[4,3],"color":"#444","strokeWidth":1.2},"encoding":{"x":{"field":"d","type":"temporal","title":null}}}
]
},
{
"width":513,"height":135,"title":"Chill accumulation",
"layer":[
{"data":{"name":"P"},"mark":{"type":"rect","clip":true},"encoding":{"x":{"field":"s","type":"temporal","title":null},"x2":{"field":"e"},"color":{"field":"k","type":"nominal","legend":null,"scale":{"domain":["chill","heat","heat late","bloom early","bloom late"],"range":["#e2f0fc","#f2dfe5","#ffe3e3","#d8c5c4","#d7d7d7"]}}}},
{"data":{"name":"L"},"mark":{"type":"errorbar","thickness":1.7},"encoding":{
"x":{"field":"d","type":"temporal","title":null,"scale":{"type":"utc","domain":[{"year":2018,"month":8,"date":3,"utc":true},{"year":2019,"month":3,"date":18,"hours":16,"utc":true}]},"axis":{"values":[{"year":2018,"month":8,"date":15,"utc":true},{"year":2018,"month":9,"date":15,"utc":true},{"year":2018,"month":10,"date":15,"utc":true},{"year":2018,"month":11,"date":15,"utc":true},{"year":2018,"month":12,"date":15,"utc":true},{"year":2019,"month":1,"date":15,"utc":true},{"year":2019,"month":2,"date":15,"utc":true},{"year":2019,"month":3,"date":15,"utc":true}],"labelExpr":"utcFormat(datum.value,'%b')","labelOverlap":false,"tickOpacity":{"condition":{"test":"utcmonth(datum.value)===7","value":0},"value":1}}},
"y":{"field":"m","type":"quantitative","scale":{"domain":[-0.048,0.77],"clamp":true},"axis":{"values":[0,0.2,0.4,0.6],"format":".1f","labelOverlap":false,"title":"Chill Portions per day"}},
"yError":{"field":"s"},
"color":{"condition":[{"test":"datum.v>0.8&&datum.c>0","value":"#2f7d2a"},{"test":"datum.v>0.8&&datum.c<0","value":"#ff4122"}],"value":"#bebebe"}}},
{"data":{"name":"L"},"mark":{"type":"line","color":"#111","strokeWidth":1,"clip":true},"encoding":{"x":{"field":"d","type":"temporal","title":null},"y":{"field":"m","type":"quantitative","title":null}}},
{"data":{"name":"B"},"mark":{"type":"rule","strokeDash":[4,3],"color":"#444","strokeWidth":1.2},"encoding":{"x":{"field":"d","type":"temporal","title":null}}}
]
},
{
"width":516,"height":135,"title":"Heat accumulation",
"layer":[
{"data":{"name":"P"},"mark":{"type":"rect","clip":true},"encoding":{"x":{"field":"s","type":"temporal","title":null},"x2":{"field":"e"},"color":{"field":"k","type":"nominal","legend":null,"scale":{"domain":["chill","heat","heat late","bloom early","bloom late"],"range":["#e2f0fc","#f2dfe5","#ffe3e3","#d8c5c4","#d7d7d7"]}}}},
{"data":{"name":"R"},"mark":{"type":"errorbar","thickness":1.7},"encoding":{
"x":{"field":"d","type":"temporal","title":null,"scale":{"type":"utc","domain":[{"year":2018,"month":8,"date":1,"hours":10,"utc":true},{"year":2019,"month":3,"date":18,"hours":10,"utc":true}]},"axis":{"values":[{"year":2018,"month":8,"date":15,"utc":true},{"year":2018,"month":9,"date":15,"utc":true},{"year":2018,"month":10,"date":15,"utc":true},{"year":2018,"month":11,"date":15,"utc":true},{"year":2018,"month":12,"date":15,"utc":true},{"year":2019,"month":1,"date":15,"utc":true},{"year":2019,"month":2,"date":15,"utc":true},{"year":2019,"month":3,"date":15,"utc":true}],"labelExpr":"utcFormat(datum.value,'%b')","labelOverlap":false,"tickOpacity":{"condition":{"test":"utcmonth(datum.value)===7","value":0},"value":1}}},
"y":{"field":"m","type":"quantitative","scale":{"domain":[46,432],"clamp":true},"axis":{"values":[50,100,150,200,250,300,350,400],"labelExpr":"datum.value%100===50?format(datum.value,'d'):''","labelOverlap":false,"title":"GDH per day"}},
"yError":{"field":"s"},
"color":{"condition":[{"test":"datum.v>0.8&&datum.c>0","value":"#2f7d2a"},{"test":"datum.v>0.8&&datum.c<0","value":"#ff4122"}],"value":"#bebebe"}}},
{"data":{"name":"R"},"mark":{"type":"line","color":"#111","strokeWidth":1,"clip":true},"encoding":{"x":{"field":"d","type":"temporal","title":null},"y":{"field":"m","type":"quantitative","title":null}}},
{"data":{"name":"B"},"mark":{"type":"rule","strokeDash":[4,3],"color":"#444","strokeWidth":1.2},"encoding":{"x":{"field":"d","type":"temporal","title":null}}}
]
}
],
"config":{
"view":{"stroke":"#555","strokeWidth":1},
"axis":{"domain":false,"grid":false,"labelFont":"Liberation Serif","labelFontSize":13,"labelColor":"#222","titleFont":"Liberation Serif","titleFontSize":14,"titleFontWeight":"normal","titleColor":"#222","tickColor":"#555","tickSize":5},
"axisX":{"tickOffset":-31.5,"labelOffset":31.5,"labelPadding":2},
"axisY":{"labelAngle":-90,"labelAlign":"center","labelBaseline":"bottom","labelPadding":3,"titlePadding":6,"labelOverlap":false},
"title":{"font":"Liberation Serif","fontSize":16,"fontWeight":"bold","color":"#000","offset":5}
}
}
